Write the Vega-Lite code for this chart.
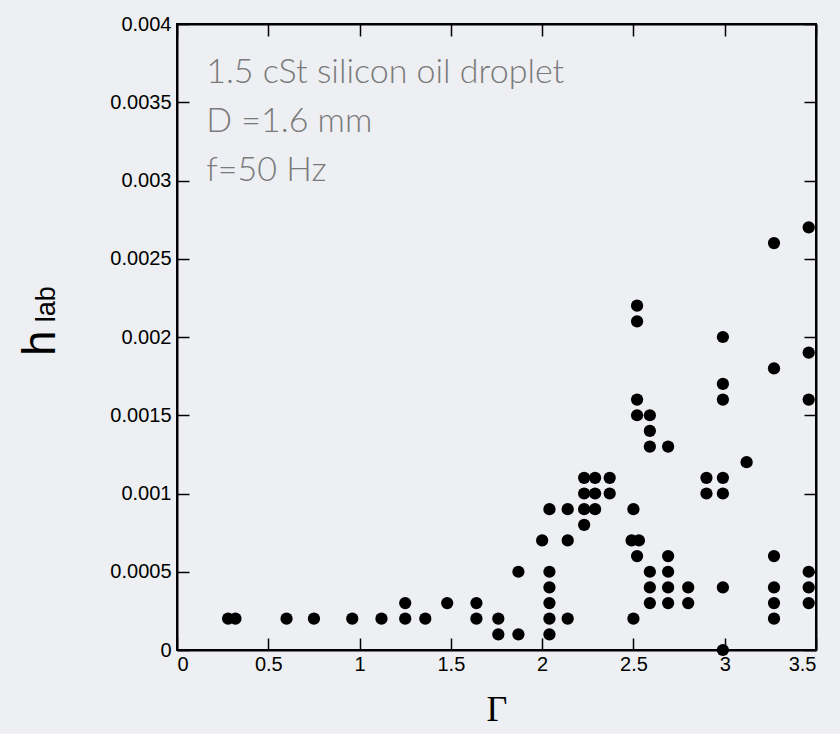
{
  "$schema": "https://vega.github.io/schema/vega-lite/v6.json",
  "width": 639,
  "height": 626,
  "autosize": {"type": "none"},
  "padding": {"left": 177, "top": 24, "right": 24, "bottom": 84},
  "background": "#edeff2",
  "config": {
    "view": {"stroke": "#000000", "strokeWidth": 2},
    "axis": {
      "labelFont": "Liberation Sans",
      "labelFontSize": 20,
      "labelColor": "#000000",
      "domainColor": "#000000",
      "domainWidth": 2,
      "tickColor": "#000000",
      "tickWidth": 1.5,
      "tickSize": -12,
      "grid": false
    }
  },
  "datasets": {
    "pts": [
      {"g": 0.28, "h": 0.0002}, {"g": 0.32, "h": 0.0002}, {"g": 0.60, "h": 0.0002}, {"g": 0.75, "h": 0.0002},
      {"g": 0.96, "h": 0.0002}, {"g": 1.12, "h": 0.0002}, {"g": 1.25, "h": 0.0002}, {"g": 1.25, "h": 0.0003},
      {"g": 1.36, "h": 0.0002}, {"g": 1.48, "h": 0.0003}, {"g": 1.64, "h": 0.0002}, {"g": 1.64, "h": 0.0003},
      {"g": 1.76, "h": 0.0002}, {"g": 1.76, "h": 0.0001}, {"g": 1.87, "h": 0.0001}, {"g": 1.87, "h": 0.0005},
      {"g": 2.00, "h": 0.0007}, {"g": 2.04, "h": 0.0001}, {"g": 2.04, "h": 0.0002}, {"g": 2.04, "h": 0.0003},
      {"g": 2.04, "h": 0.0004}, {"g": 2.04, "h": 0.0005}, {"g": 2.04, "h": 0.0009}, {"g": 2.14, "h": 0.0002},
      {"g": 2.14, "h": 0.0007}, {"g": 2.14, "h": 0.0009}, {"g": 2.23, "h": 0.0008}, {"g": 2.23, "h": 0.0009},
      {"g": 2.23, "h": 0.0010}, {"g": 2.23, "h": 0.0011}, {"g": 2.29, "h": 0.0009}, {"g": 2.29, "h": 0.0010},
      {"g": 2.29, "h": 0.0011}, {"g": 2.37, "h": 0.0010}, {"g": 2.37, "h": 0.0011}, {"g": 2.50, "h": 0.0002},
      {"g": 2.50, "h": 0.0009}, {"g": 2.49, "h": 0.0007}, {"g": 2.53, "h": 0.0007}, {"g": 2.52, "h": 0.0006},
      {"g": 2.52, "h": 0.0015}, {"g": 2.52, "h": 0.0016}, {"g": 2.52, "h": 0.0021}, {"g": 2.52, "h": 0.0022},
      {"g": 2.59, "h": 0.0003}, {"g": 2.59, "h": 0.0004}, {"g": 2.59, "h": 0.0005}, {"g": 2.59, "h": 0.0013},
      {"g": 2.59, "h": 0.0014}, {"g": 2.59, "h": 0.0015}, {"g": 2.69, "h": 0.0003}, {"g": 2.69, "h": 0.0004},
      {"g": 2.69, "h": 0.0005}, {"g": 2.69, "h": 0.0006}, {"g": 2.69, "h": 0.0013}, {"g": 2.80, "h": 0.0003},
      {"g": 2.80, "h": 0.0004}, {"g": 2.90, "h": 0.0010}, {"g": 2.90, "h": 0.0011}, {"g": 2.99, "h": 0.0},
      {"g": 2.99, "h": 0.0004}, {"g": 2.99, "h": 0.0010}, {"g": 2.99, "h": 0.0011}, {"g": 2.99, "h": 0.0016},
      {"g": 2.99, "h": 0.0017}, {"g": 2.99, "h": 0.0020}, {"g": 3.12, "h": 0.0012}, {"g": 3.27, "h": 0.0002},
      {"g": 3.27, "h": 0.0003}, {"g": 3.27, "h": 0.0004}, {"g": 3.27, "h": 0.0006}, {"g": 3.27, "h": 0.0018},
      {"g": 3.27, "h": 0.0026}, {"g": 3.46, "h": 0.0003}, {"g": 3.46, "h": 0.0004}, {"g": 3.46, "h": 0.0005},
      {"g": 3.46, "h": 0.0016}, {"g": 3.46, "h": 0.0019}, {"g": 3.46, "h": 0.0027}
    ]
  },
  "layer": [
    {
      "data": {"name": "pts"},
      "mark": {"type": "circle", "size": 150, "opacity": 1, "color": "#000000"},
      "encoding": {
        "x": {
          "field": "g", "type": "quantitative",
          "scale": {"domain": [0, 3.5], "nice": false, "zero": false},
          "axis": {
            "orient": "bottom",
            "values": [0, 0.5, 1, 1.5, 2, 2.5, 3, 3.5],
            "format": "~g",
            "labelPadding": 16,
            "title": "Γ",
            "titleFont": "Liberation Serif",
            "titleFontSize": 36,
            "titleFontWeight": "normal",
            "titleColor": "#000000",
            "titlePadding": 18
          }
        },
        "y": {
          "field": "h", "type": "quantitative",
          "scale": {"domain": [0, 0.004], "nice": false, "zero": false},
          "axis": {
            "orient": "left",
            "values": [0, 0.0005, 0.001, 0.0015, 0.002, 0.0025, 0.003, 0.0035, 0.004],
            "format": "~g",
            "labelPadding": 18,
            "title": null
          }
        }
      }
    },
    {
      "data": {"name": "pts"},
      "mark": {"type": "circle", "opacity": 0},
      "encoding": {
        "x": {
          "field": "g", "type": "quantitative",
          "axis": {"orient": "top", "values": [0, 0.5, 1, 1.5, 2, 2.5, 3, 3.5], "labels": false, "title": null}
        },
        "y": {
          "field": "h", "type": "quantitative",
          "axis": {"orient": "right", "values": [0, 0.0005, 0.001, 0.0015, 0.002, 0.0025, 0.003, 0.0035, 0.004], "labels": false, "title": null}
        }
      }
    },
    {
      "data": {"values": [{}]},
      "mark": {
        "type": "text", "align": "left", "baseline": "alphabetic",
        "font": "Lato", "fontWeight": 300, "fontSize": 34, "color": "#7a7a7a", "lineHeight": 49
      },
      "encoding": {
        "x": {"datum": 0.16, "type": "quantitative", "axis": null},
        "y": {"datum": 0.00362, "type": "quantitative", "axis": null},
        "text": {"value": ["1.5 cSt silicon oil droplet", "D =1.6 mm", "f=50 Hz"]}
      }
    },
    {
      "data": {"values": [{}]},
      "mark": {
        "type": "text", "align": "center", "baseline": "middle", "angle": 270,
        "font": "Liberation Sans", "fontSize": 46, "color": "#000000"
      },
      "encoding": {
        "x": {"datum": -0.745, "type": "quantitative", "axis": null},
        "y": {"datum": 0.00196, "type": "quantitative", "axis": null},
        "text": {"value": "h"}
      }
    },
    {
      "data": {"values": [{}]},
      "mark": {
        "type": "text", "align": "center", "baseline": "middle", "angle": 270,
        "font": "Liberation Sans", "fontSize": 27, "color": "#000000"
      },
      "encoding": {
        "x": {"datum": -0.712, "type": "quantitative", "axis": null},
        "y": {"datum": 0.00221, "type": "quantitative", "axis": null},
        "text": {"value": "lab"}
      }
    }
  ],
  "resolve": {"axis": {"x": "independent", "y": "independent"}}
}
